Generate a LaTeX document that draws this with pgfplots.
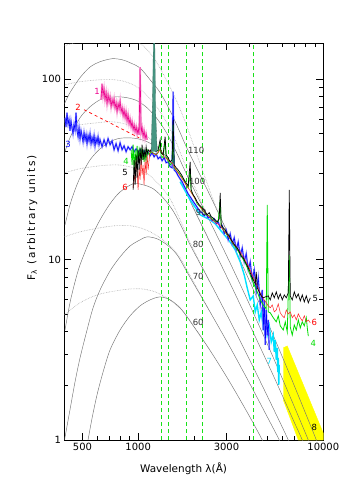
\documentclass[border=0pt]{standalone}
\usepackage{fontspec}
\setmainfont{DejaVu Sans}
\usepackage{pgfplots}
\usepackage{pgfplotstable}
\pgfplotsset{compat=1.18}

\definecolor{curvegray}{RGB}{115,115,115}
\definecolor{dotgray}{RGB}{170,170,170}
\definecolor{vgreen}{RGB}{25,225,25}
\definecolor{specgreen}{RGB}{0,220,0}
\definecolor{speccyan}{RGB}{0,225,255}
\definecolor{specred}{RGB}{255,30,30}
\definecolor{lyateal}{RGB}{70,150,130}
\definecolor{specyellow}{RGB}{255,255,0}

\tikzset{
    curve/.style={curvegray, line width=0.45pt, smooth},
    dcurve/.style={dotgray, line width=0.6pt, densely dotted, smooth},
    vline/.style={vgreen, line width=0.8pt, dash pattern=on 4pt off 3pt},
    lab/.style={font=\fontsize{8.5}{10}\selectfont, inner sep=0pt},
}

% spectra, wavelength (A) and flux
\pgfplotstableread{
x y
630 76.9
638 94.3
646 80.9
654 88.5
662 76.9
671 84.2
679 73.1
688 81.9
696 75.0
705 79.9
714 70.3
723 76.9
732 72.1
741 77.9
750 69.4
760 74.0
769 66.0
779 73.1
789 68.5
799 75.9
809 66.0
819 69.4
829 62.7
839 67.7
850 61.1
860 66.0
871 58.7
882 63.5
893 56.6
904 60.3
916 54.5
927 58.1
939 52.4
951 55.9
962 51.1
975 54.5
987 49.8
999 53.1
1012 49.2
1024 116.7
1037 50.5
1050 53.8
1063 48.0
1076 51.8
1090 46.8
1104 49.8
1118 46.1
}\specone

\pgfplotstableread{
x y
402.5 61.1
407.5 54.5
412.6 65.2
417.8 56.6
423.1 59.5
428.2 51.8
433.6 58.7
439.0 53.8
444.5 49.8
450.1 55.9
456.0 52.4
461.7 65.2
467.5 51.8
473.4 48.0
479.3 53.8
485.2 46.8
491.3 51.8
497.4 48.6
503.7 45.0
510.0 50.5
516.4 46.1
522.9 49.2
529.4 43.9
536.1 48.6
542.8 45.5
549.6 49.8
556.5 43.9
563.5 47.4
570.5 44.4
577.7 48.6
584.8 42.7
592.1 46.8
599.5 44.4
607.1 48.0
614.7 43.3
622.5 46.1
638.2 42.2
654.3 46.1
670.8 42.7
687.7 46.8
705.1 43.3
722.9 45.5
741.1 40.6
759.8 43.9
779.0 40.1
798.6 44.4
818.7 40.6
839.4 42.7
860.5 39.6
882.3 42.2
904.5 40.6
927.3 42.2
950.7 39.6
974.6 41.1
999.2 39.1
1024 40.6
1050 38.6
1076 40.1
1104 38.1
1131.5 39.6
1160 37.6
1189 39.1
1219 37.1
1250 38.6
1281.5 36.2
1314 37.1
1347 35.3
1381 36.7
1416 34.4
1451 34.8
1488 32.7
1525.5 32.3
1545 85.3
1564 31.4
1603 30.6
1644 29.1
1685 28.0
1727.5 27.0
1771 25.6
1816 24.35
1862 23.1
1909 22.3
1957 21.43
2007 20.6
2057 19.9
2108 19.1
2162 18.4
2216 18.2
2272 17.5
2330 17.9
2389 17.0
2449 17.3
2511 16.4
2574 16.8
2639 15.8
2705 16.2
2774 15.0
2844 15.4
2916 13.9
2989 14.6
3064 12.86
3141 13.9
3220 12.2
3302 13.2
3385 11.32
3470 12.5
3558 10.5
3648 11.6
3740 9.71
3834 10.76
3931 8.77
4030 9.71
4132 7.72
4236 8.77
4343 6.62
4452 7.92
4565 5.61
4680 6.79
4739 4.07
4798 5.98
4858 3.37
4919 5.26
4980 3.82
5043 4.63
5106 3.16
}\specthree

\pgfplotstableread{
x y
915.8 40.6
927.3 33.5
938.9 43.3
950.7 31.4
962.5 40.6
974.6 32.3
986.8 42.7
999.2 34.8
1011.7 40.6
1024 36.7
1037 41.7
1050 35.7
1063 40.6
1076 34.8
1090 39.6
1104 35.7
1117.5 40.6
1146 38.1
1175 39.6
1250 38.1
1281.5 39.1
1314 44.4
1330 37.6
1364 36.7
1398 46.1
1416 36.7
1451 35.3
1488 33.5
1525.5 34.4
1545 55.9
1564 32.3
1623 31.0
1685 29.5
1749 28.0
1816 25.96
1862 25.0
1909 31.4
1933 23.7
2007 22.3
2082 20.4
2162 19.6
2244 18.6
2330 17.7
2419 17.5
2511 16.8
2606 16.2
2705 16.2
2774 21.43
2809 15.2
2916 14.4
3026 13.71
3141 13.03
3261 12.2
3385 11.6
3514 10.9
3648 10.22
3787 9.59
3931 8.77
4081 7.92
4236 7.24
4397 6.62
4565 5.98
4739 5.61
4919 5.33
4980 20.11
5043 5.13
5170 5.07
5367 4.76
5571 4.52
5711 4.88
5855 4.29
6078 4.07
6232 4.52
6389 3.97
6550 10.62
6631 4.23
6798 3.82
6970 4.34
7146 4.07
7327 4.63
7511 4.18
7700 4.52
7895 4.29
8093 4.76
8195 4.18
8297 3.77
}\specfour

\pgfplotstableread{
x y
938.9 24.35
950.7 35.7
962.5 25.96
974.6 38.1
986.8 28.4
999.2 40.6
1011.7 31.4
1024 41.7
1037 33.5
1050 43.3
1063 35.7
1076 40.6
1090 36.7
1104 42.2
1117.5 38.1
1131.5 40.6
1160 39.6
1189 41.7
1219 40.6
1250 39.6
1281.5 40.6
1314 46.1
1330 39.1
1364 38.1
1398 48.0
1416 38.1
1451 36.7
1488 34.8
1525.5 35.7
1545 59.5
1564 33.5
1603 32.3
1644 31.4
1685 30.3
1727.5 29.1
1771 27.7
1816 26.6
1862 25.6
1909 34.8
1933 24.35
1982 22.85
2031 22.0
2082 20.9
2135 20.11
2189 19.6
2244 19.1
2301 18.4
2359 17.7
2419 18.2
2480 17.3
2542 17.0
2606 16.6
2672 16.2
2739 16.8
2774 23.4
2809 15.58
2880 15.0
2952 14.61
3026 13.9
3103 13.54
3181 12.86
3261 12.4
3343 11.9
3427 11.6
3514 11.04
3603 10.48
3693 10.22
3787 9.71
3882 9.23
3981 8.77
4081 8.13
4184 7.72
4289 7.34
4343 8.55
4397 6.97
4508 6.62
4622 6.29
4739 6.14
4858 6.21
5043 6.29
5170 5.98
5300 6.54
5434 6.14
5571 6.62
5711 6.06
5855 6.45
6003 5.98
6154 6.37
6310 6.14
6469 6.54
6550 24.35
6631 6.29
6798 5.98
6970 6.62
7146 6.14
7327 6.45
7511 5.90
7700 6.37
7895 5.83
8093 6.29
8297 5.76
8508 6.14
}\specfive

\pgfplotstableread{
x y
938.9 25.0
950.7 29.5
962.5 27.0
974.6 35.7
986.8 30.6
999.2 24.35
1011.7 32.3
1024 27.7
1037 36.7
1050 29.5
1063 33.5
1076 25.96
1090 35.7
1104 29.5
1117.5 38.1
1131.5 31.4
1160 40.6
1189 39.1
1250 38.1
1314 40.6
1381 37.1
1451 35.7
1525.5 34.4
1603 31.4
1685 29.1
1771 27.0
1862 25.0
1957 23.1
2057 21.2
2162 19.6
2272 18.4
2389 17.5
2511 16.6
2639 15.98
2774 15.4
2916 14.4
3064 13.54
3220 12.5
3385 11.76
3558 11.04
3740 10.09
3931 9.23
4132 8.23
4343 7.34
4565 6.54
4739 6.06
4919 5.76
5043 5.54
5170 5.40
5300 5.61
5434 5.13
5571 5.26
5711 5.68
5855 5.07
6003 4.88
6154 4.76
6310 5.26
6469 5.00
6631 5.13
6798 4.76
6970 4.94
7146 4.63
7327 5.00
7511 4.76
7700 4.57
7895 4.88
8093 4.52
8297 4.63
8508 4.46
}\specsix

\pgfplotstableread{
x y
1685 27.0
1909 21.43
2162 17.7
2449 16.6
2606 15.8
2774 14.61
2952 13.54
3141 12.5
3343 11.32
3558 9.71
3740 8.23
3882 6.97
4030 5.98
4184 6.29
4289 5.13
4397 5.61
4508 4.63
4622 5.13
4739 4.18
4858 4.63
4980 3.82
5106 4.29
5235 3.50
5367 3.82
5434 3.08
5502 3.59
5571 2.78
5641 3.24
5676 2.38
5711 2.85
5747 2.02
5783 2.61
}\specseven

\begin{document}
\begin{tikzpicture}
\begin{axis}[
    at={(0,0)}, anchor=south west,
    scale only axis,
    width=258.8bp, height=396.7bp,
    xmode=log, ymode=log,
    xmin=400, xmax=10000,
    ymin=1, ymax=158,
    xtick={500,1000,3000,10000},
    xticklabels={500,1000,3000,10000},
    minor xtick={400,600,700,800,900,2000,4000,5000,6000,7000,8000,9000},
    ytick={1,10,100},
    yticklabels={1,10,100},
    minor ytick={2,3,4,5,6,7,8,9,20,30,40,50,60,70,80,90},
    major tick length=7bp,
    minor tick length=4bp,
    tick style={black, line width=0.6pt},
    axis line style={line width=0.8pt},
    ticklabel style={font=\fontsize{10}{12}\selectfont},
    xlabel={Wavelength λ(Å)},
    ylabel={F\textsubscript{λ} (arbitrary units)},
    xlabel style={at={(axis description cs:0.46,-0.083)}, anchor=base,
        font=\fontsize{10.5}{12}\selectfont},
    ylabel style={at={(axis description cs:-0.125,0.56)}, anchor=center,
        font=\fontsize{10.5}{12}\selectfont\addfontfeatures{LetterSpace=17}},
    no markers,
]

% band 8
\addplot[fill=specyellow, draw=specyellow] coordinates {
    (6078,3.24) (6389,3.32) (10000,1.09) (10000,1.0) (7327,1.0) (6078,1.67)};

% dotted model curves
\addplot[dcurve] coordinates {(400,153.2) (456,159.2) (549.6,165.4) (662.5,169.7) (798.6,169.7) (962.5,163.3) (1090,149.4) (1234.5,128.1) (1398,101.9) (1583.5,78.9) (1794,58.1) (2031,40.6) (2301,28.4) (2606,20.1) (3064,13.85)};
\addplot[dcurve] coordinates {(402.5,93.1) (485.2,96.8) (622.5,99.2) (750.4,99.2) (849.9,96.8) (962.5,91.9) (1090,83.1) (1234.5,72.1) (1398,59.5) (1583.5,46.1) (1794,33.5) (2031,25.0) (2419,16.6)};
\addplot[dcurve] coordinates {(402.5,53.8) (485.2,55.9) (599.5,57.3) (705.1,58.1) (798.6,57.3) (904.5,55.2) (1024,51.8) (1160,46.8) (1314,40.6) (1488,34.4) (1685,27.7) (1909,21.43) (2162,16.2) (2542,11.5)};
\addplot[dcurve] coordinates {(402.5,30.3) (485.2,31.9) (622.5,33.1) (750.4,33.5) (849.9,33.1) (1024,31.4) (1160,29.1) (1314,25.6) (1488,21.7) (1685,16.6) (1909,12.4) (2449,7.46)};
\addplot[dcurve] coordinates {(400,13.37) (485.2,14.25) (622.5,15.0) (750.4,15.4) (904.5,15.4) (1024,15.0) (1160,14.25) (1314,13.2) (1488,11.9) (1685,10.22) (1885,8.34) (2419,5.23)};
\addplot[dcurve] coordinates {(400,4.94) (485.2,5.76) (599.5,6.37) (750.4,6.70) (904.5,6.87) (1063,6.87) (1234.5,6.62) (1398,6.21) (1583.5,5.68) (1794,5.00) (2031,4.17) (2419,3.19)};

% solid model curves (110 ... 60)
\addplot[curve] coordinates {(400,73.1) (428.2,84.2) (485.2,101.9) (549.6,116.7) (622.5,124.9) (722.9,129.8) (818.7,128.1) (904.5,123.3) (1024,115.2) (1160,99.2) (1314,84.2) (1488,66.8) (1685,50.5) (1862,40.1) (2389,23.8) (3064,13.85) (3931,7.89) (5043,4.41) (6469,2.41) (8297,1.29) (9167,1.0) (9636,0.86)};
\addplot[curve] coordinates {(402.5,39.6) (428.2,47.3) (485.2,61.1) (549.6,70.3) (622.5,76.9) (687.7,78.9) (769.3,79.9) (871.3,78.9) (986.8,75.9) (1117.5,69.4) (1266,60.3) (1433,49.8) (1623,38.6) (1886,27.7) (2419,16.6) (3103,9.81) (3981,5.68) (5106,3.22) (6550,1.78) (8297,1.0) (8722,0.86)};
\addplot[curve] coordinates {(402.5,15.58) (428.2,20.11) (456,24.35) (485.2,28.4) (549.6,35.7) (622.5,41.1) (705.1,45.0) (779,46.8) (871.3,47.3) (986.8,46.8) (1117.5,45.0) (1266,41.7) (1433,36.7) (1623,29.9) (1794,24.35) (1982,19.4) (2542,11.5) (3261,6.79) (4184,3.95) (5367,2.28) (6883,1.29) (7700,1.0) (8093,0.86)};
\addplot[curve] coordinates {(402.5,4.07) (428.2,5.76) (456,7.53) (485.2,9.35) (549.6,12.86) (622.5,16.6) (705.1,20.4) (798.6,23.7) (938.9,26.3) (1063,25.96) (1204,24.7) (1364,22.0) (1545,18.6) (1727.5,15.0) (1909,12.06) (2449,7.46) (3141,4.55) (4030,2.74) (5170,1.62) (6469,1.0) (6798,0.86)};
\addplot[curve] coordinates {(400,1.0) (428.2,1.47) (456,2.10) (485.2,2.85) (529.4,4.07) (570.5,5.40) (622.5,6.79) (705.1,8.66) (798.6,10.35) (904.5,11.9) (1024,12.86) (1117.5,13.37) (1266,13.03) (1433,12.06) (1623,10.62) (1886,8.13) (2419,5.23) (3103,3.33) (3981,2.08) (5106,1.28) (5783,1.0) (6078,0.88)};
\addplot[curve] coordinates {(536.1,1.0) (563.5,1.32) (599.5,1.78) (646.2,2.38) (705.1,3.16) (798.6,4.07) (904.5,4.88) (1024,5.54) (1160,5.98) (1314,6.21) (1488,5.98) (1685,5.40) (1886,4.63) (2419,3.19) (3103,2.12) (3981,1.36) (4680,1.0) (4919,0.88)};

% dashed lines
\addplot[vline] coordinates {(1342,1) (1342,158)};
\addplot[vline] coordinates {(1457,1) (1457,158)};
\addplot[vline] coordinates {(1827,1) (1827,158)};
\addplot[vline] coordinates {(2225,1) (2225,158)};
\addplot[vline] coordinates {(4200,1) (4200,158)};

% spectra
\addplot[speccyan, line width=1.4pt] table {\specseven};
\addplot[blue!45, line width=1.6pt] table {\specthree};
\addplot[blue, line width=0.6pt] table {\specthree};
\addplot[magenta!35, line width=1.8pt] table {\specone};
\addplot[magenta, line width=0.6pt] table {\specone};
\addplot[red, dashed, line width=0.7pt] coordinates {(510,67.7) (1012,47.3)};
\addplot[specgreen, line width=0.8pt] table {\specfour};
\addplot[specred, line width=0.5pt] table {\specsix};
\addplot[black, line width=0.7pt] table {\specfive};
\addplot[fill=lyateal, draw=lyateal!70!black, line width=0.3pt] coordinates {
    (1175,39.6) (1196,76.9) (1211,188) (1227,188) (1242,67.7) (1266,39.6)};

% labels
\node[lab, text=magenta] at (axis cs:600,85.1) {1};
\node[lab, text=red] at (axis cs:473,69.4) {2};
\node[lab, text=blue] at (axis cs:418,43.3) {3};
\node[lab, text=specgreen] at (axis cs:860,34.8) {4};
\node[lab, text=black] at (axis cs:850,30.3) {5};
\node[lab, text=red] at (axis cs:850,25.0) {6};
\node[lab, text=black] at (axis cs:9054,6.05) {5};
\node[lab, text=red] at (axis cs:8943,4.51) {6};
\node[lab, text=specgreen] at (axis cs:8831,3.45) {4};
\node[lab, text=speccyan] at (axis cs:5105,2.71) {7};
\node[lab, text=black] at (axis cs:8943,1.18) {8};
\node[lab, text=black!80] at (axis cs:2057,40.1) {110};
\node[lab, text=black!80] at (axis cs:2083,27.0) {100};
\node[lab, text=black!80] at (axis cs:2189,18.2) {90};
\node[lab, text=black!80] at (axis cs:2109,12.06) {80};
\node[lab, text=black!80] at (axis cs:2109,8.02) {70};
\node[lab, text=black!80] at (axis cs:2109,4.51) {60};
\end{axis}
\pgfresetboundingbox
\path (-64.5bp,-56bp) rectangle (283.5bp,440bp);
\end{tikzpicture}
\end{document}
